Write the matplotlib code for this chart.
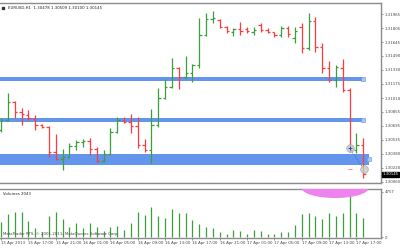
import matplotlib
matplotlib.use("Agg")
import matplotlib.pyplot as plt
import matplotlib.transforms as mtransforms
from matplotlib.patches import Ellipse

TITLE = "EURUSD,H1  1.30478 1.30509 1.30100 1.30145"
VOLUME_TITLE = "Volumes 2043"
COPYRIGHT = "MetaTrader RTS, \u00a9 2001-2011, MetaQuotes Software Corp."

# hourly bars, 15 Apr 13:00 .. 17 Apr 18:00
opens = [1.30647, 1.30761, 1.30965, 1.30852, 1.30818, 1.30772, 1.30704, 1.30681, 1.30397, 1.30318,
         1.30341, 1.30466, 1.30511, 1.30522, 1.30431, 1.30295, 1.30375, 1.30624, 1.30761, 1.30738,
         1.30693, 1.30477, 1.30420, 1.30704, 1.31011, 1.31136, 1.31352, 1.31249, 1.31295, 1.31386,
         1.31726, 1.31908, 1.31897, 1.31817, 1.31760, 1.31790, 1.31795, 1.31761, 1.31840, 1.31783,
         1.31761, 1.31726, 1.31806, 1.31692, 1.31817, 1.31579, 1.31885, 1.31590, 1.31352, 1.31215,
         1.31352, 1.31102, 1.30420, 1.30478]
highs = [1.30784, 1.31068, 1.30975, 1.30897, 1.30874, 1.30818, 1.30716, 1.30693, 1.30602, 1.30431,
         1.30500, 1.30534, 1.30545, 1.30556, 1.30454, 1.30420, 1.30670, 1.30795, 1.30795, 1.30829,
         1.30795, 1.30545, 1.30886, 1.31124, 1.31227, 1.31465, 1.31360, 1.31488, 1.31395, 1.31920,
         1.31976, 1.31999, 1.31910, 1.31825, 1.31806, 1.31874, 1.31817, 1.31817, 1.31863, 1.31806,
         1.31765, 1.31829, 1.31829, 1.31817, 1.31863, 1.31976, 1.31931, 1.31636, 1.31431, 1.31386,
         1.31454, 1.31124, 1.30613, 1.30560]
lows = [1.30624, 1.30749, 1.30784, 1.30704, 1.30761, 1.30647, 1.30670, 1.30341, 1.30306, 1.30193,
        1.30329, 1.30420, 1.30454, 1.30363, 1.30284, 1.30284, 1.30363, 1.30613, 1.30727, 1.30613,
        1.30443, 1.30397, 1.30272, 1.30681, 1.31000, 1.31125, 1.31113, 1.31238, 1.31192, 1.31352,
        1.31720, 1.31863, 1.31806, 1.31749, 1.31715, 1.31726, 1.31749, 1.31726, 1.31761, 1.31749,
        1.31704, 1.31704, 1.31704, 1.31636, 1.31522, 1.31556, 1.31533, 1.31295, 1.31192, 1.31136,
        1.31079, 1.30397, 1.30386, 1.30100]
closes = [1.30761, 1.30965, 1.30852, 1.30829, 1.30784, 1.30704, 1.30681, 1.30397, 1.30318, 1.30341,
          1.30466, 1.30511, 1.30522, 1.30431, 1.30295, 1.30375, 1.30624, 1.30761, 1.30738, 1.30693,
          1.30477, 1.30420, 1.30704, 1.31011, 1.31136, 1.31352, 1.31249, 1.31295, 1.31386, 1.31726,
          1.31908, 1.31915, 1.31817, 1.31772, 1.31790, 1.31772, 1.31772, 1.31783, 1.31783, 1.31761,
          1.31726, 1.31806, 1.31738, 1.31772, 1.31579, 1.31885, 1.31590, 1.31352, 1.31215, 1.31363,
          1.31102, 1.30420, 1.30478, 1.30145]
volumes = [1607, 2415, 2594, 2657, 1680, 914, 557, 2205, 2594, 1890,
           1082, 1502, 914, 1439, 1019, 662, 1019, 1155, 735, 1502,
           2657, 2310, 3119, 2237, 1964, 2940, 2552, 2552, 1785, 1400,
           1082, 914, 557, 284, 735, 662, 284, 735, 662, 284,
           284, 557, 557, 1260, 2415, 2489, 2205, 1859, 2489, 2205,
           2552, 4652, 2552, 2043]

price_ticks = [1.31965, 1.31805, 1.31645, 1.31490, 1.31330, 1.31175, 1.31010,
               1.30855, 1.30695, 1.30535, 1.30380, 1.30220, 1.30060]
current_price = 1.30145
volume_max_label = 4757

time_labels = ["15 Apr 2013", "15 Apr 17:00", "15 Apr 21:00", "16 Apr 01:00", "16 Apr 05:00",
               "16 Apr 09:00", "16 Apr 13:00", "16 Apr 17:00", "16 Apr 21:00", "17 Apr 01:00",
               "17 Apr 05:00", "17 Apr 09:00", "17 Apr 13:00", "17 Apr 17:00"]

# support / resistance zones (low, high, last bar)
zone_lows = [1.31204, 1.30738, 1.30250]
zone_highs = [1.31249, 1.30784, 1.30375]
zone_ends = [52.9, 52.9, 53.9]

UP = "#3c9e3c"
DOWN = "#ff3b3b"
ZONE = "#6495ed"
FRAME = "#8c8c8c"
FS = 2.8


def draw_bars(ax):
	for i, (o, h, l, c) in enumerate(zip(opens, highs, lows, closes)):
		col = UP if c >= o else DOWN
		ax.vlines(i, l, h, color=col, lw=0.9)
		ax.hlines(o, i - 0.35, i, color=col, lw=0.9)
		ax.hlines(c, i, i + 0.35, color=col, lw=0.9)


def draw_zones(ax):
	for lo, hi, end in zip(zone_lows, zone_highs, zone_ends):
		ax.fill_between([-1, end], lo, hi, color=ZONE, lw=0, zorder=1)
		ax.plot(end, (lo + hi) / 2, marker="s", ms=2.2, color="#a9c3f2", mec=ZONE, mew=0.4, zorder=2)


def main():
	fig = plt.figure(figsize=(4.0, 2.48), dpi=100)
	ax = fig.add_axes([0.0, 0.2621, 0.9525, 0.7258])
	vax = fig.add_axes([0.0, 0.0403, 0.9525, 0.1976], sharex=ax)

	n = len(opens)
	ax.set_xlim(-0.15, 55.6)
	ax.set_ylim(1.30045, 1.32090)

	draw_zones(ax)
	draw_bars(ax)

	# trade markers near the close
	ax.plot([51, 53.1], [1.30440, 1.30200], ls=":", color="#3a5fcd", lw=0.7, zorder=3)
	ax.plot([51, 53.1], [1.30440, 1.30200], ls="none", marker="o", ms=5.5,
			mfc="#c8c8c8", mec="#999999", mew=0.5, alpha=0.8, zorder=4)
	ax.plot(51, 1.30440, marker="+", ms=2.5, color="#1f3fbf", mew=0.6, zorder=5)
	ax.hlines(1.30200, 50.8, 51.3, color="#ff8080", lw=0.7, zorder=3)

	ax.yaxis.tick_right()
	ax.set_yticks(price_ticks)
	ax.set_yticklabels(["%.5f" % p for p in price_ticks])
	ax.tick_params(axis="y", labelsize=FS, length=1.5, width=0.4, pad=1, colors="#444444")
	ax.tick_params(axis="x", bottom=False, labelbottom=False)
	for s in ["left"]:
		ax.spines[s].set_visible(False)
	for s in ["top", "right", "bottom"]:
		ax.spines[s].set_color(FRAME)
		ax.spines[s].set_linewidth(1.0)
	ax.axhline(1.30060, color="#dddddd", lw=0.4, ls=":", zorder=0)

	blend = mtransforms.blended_transform_factory(ax.transAxes, ax.transData)
	ax.text(1.004, current_price, "%.5f" % current_price, transform=blend, fontsize=FS,
			color="white", va="center", ha="left",
			bbox=dict(boxstyle="square,pad=0.15", fc="black", ec="black"), zorder=6)

	ax.text(0.022, 0.985, TITLE, transform=ax.transAxes, fontsize=FS, va="top", ha="left", color="#222222")
	ax.plot(0.007, 0.975, marker="s", ms=1.4, color="#333333", transform=ax.transAxes, clip_on=False)

	# volume pane
	vax.vlines(range(n), 0, volumes, color=UP, lw=0.9)
	vax.set_ylim(-100, 5040)
	vax.add_patch(Ellipse((48.9, 5145), 9.8, 2100, color="#ee82ee", lw=0, zorder=3))
	vax.yaxis.tick_right()
	vax.set_yticks([volume_max_label, 0])
	vax.set_yticklabels([str(volume_max_label), "0"])
	vax.tick_params(axis="y", labelsize=FS, length=1.5, width=0.4, pad=1, colors="#444444")
	vax.set_xticks(range(0, n, 4))
	vax.set_xticklabels(time_labels, ha="left")
	vax.tick_params(axis="x", labelsize=FS, length=1.5, width=0.4, pad=0.8, colors="#444444")
	vax.spines["left"].set_visible(False)
	for s in ["top", "right", "bottom"]:
		vax.spines[s].set_color(FRAME)
		vax.spines[s].set_linewidth(1.0)
	vax.text(0.008, 0.93, VOLUME_TITLE, transform=vax.transAxes, fontsize=FS, va="top", ha="left", color="#222222")
	vax.text(0.008, 0.04, COPYRIGHT, transform=vax.transAxes, fontsize=FS, va="bottom", ha="left", color="#444444")

	fig.savefig("out.png", dpi=100)
	plt.close(fig)


if __name__ == "__main__":
	main()
